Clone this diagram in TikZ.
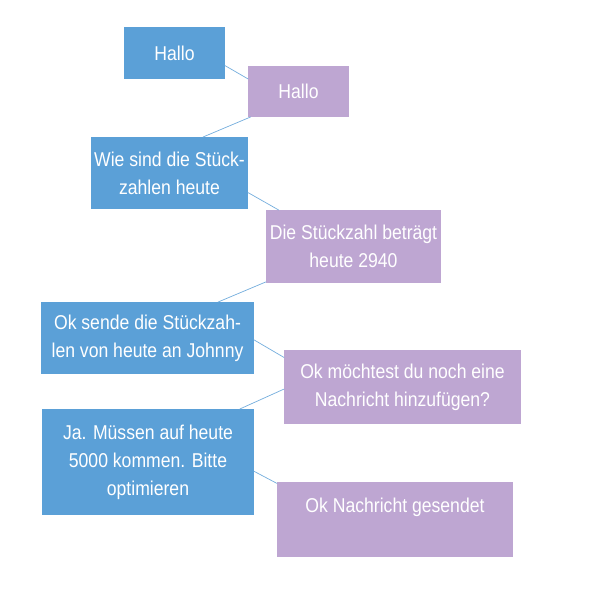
\documentclass[tikz,border=0pt]{standalone}
\usepackage{fontspec}
\setmainfont{Liberation Sans}[FakeStretch=0.88]
\definecolor{userblue}{RGB}{91,160,215}
\definecolor{botlila}{RGB}{190,166,210}
\tikzset{
  box/.style={rectangle,inner sep=0pt,outer sep=0pt,align=center,text=white,
    font=\fontsize{20}{28}\selectfont},
  user/.style={box,fill=userblue},
  bot/.style={box,fill=botlila},
  link/.style={draw=userblue!85,line width=0.7pt}
}

\begin{document}
\begin{tikzpicture}[x=1pt,y=-1pt,line cap=round,line join=round]
  % ---- page window (604 x 605) ----
  \useasboundingbox[fill=white] (0,0) rectangle (604,605);

  % ---- chat turns ----
  \node[user,minimum width=101pt,minimum height=52pt] (hallo1) at (174.5,53) {Hallo};
  \node[bot,minimum width=101pt,minimum height=51pt] (hallo2) at (298.5,91.5) {Hallo};
  \node[user,minimum width=157pt,minimum height=72pt] (frage) at (169.5,173)
    {Wie sind die Stück-\\zahlen heute};
  \node[bot,minimum width=175pt,minimum height=73pt] (antwort) at (353.5,246.5)
    {Die Stückzahl beträgt\\heute 2940};
  \node[user,minimum width=213pt,minimum height=72pt] (senden) at (147.5,338)
    {Ok sende die Stückzah-\\len von heute an Johnny};
  \node[bot,minimum width=237pt,minimum height=74pt] (rueckfrage) at (402.5,387)
    {Ok möchtest du noch eine\\Nachricht hinzufügen?};
  \node[user,minimum width=212pt,minimum height=106pt] (ziel) at (148,462)
    {Ja. Müssen auf heute\\5000 kommen. Bitte\\optimieren};
  \node[bot,minimum width=236pt,minimum height=75pt] (gesendet) at (395,519.5)
    {Ok Nachricht gesendet\\\mbox{}};

  % ---- thin connectors between the turns ----
  \draw[link] (hallo1.-14.4) -- (hallo2.166.1);
  \draw[link] (hallo2.-152.3) -- (frage.47.1);
  \draw[link] (frage.-14.3) -- (antwort.154.5);
  \draw[link] (antwort.-158.5) -- (senden.27.1);
  \draw[link] (senden.-1.1) -- (rueckfrage.166.2);
  \draw[link] (rueckfrage.-179.5) -- (ziel.30.8);
  \draw[link] (ziel.-5.9) -- (gesendet.163.7);
\end{tikzpicture}
\end{document}
